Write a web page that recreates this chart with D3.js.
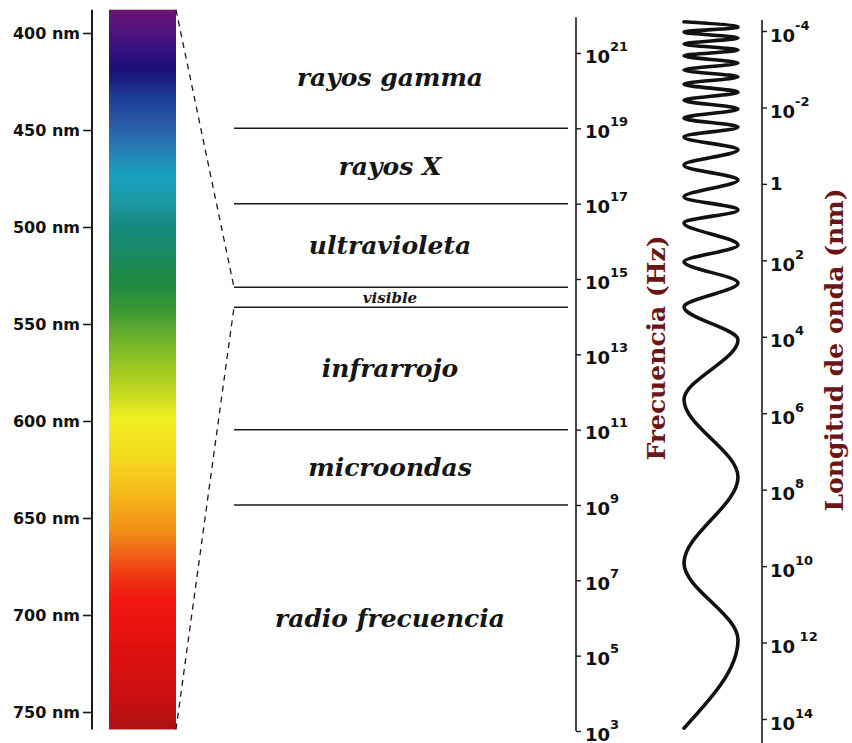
<!DOCTYPE html>
<html>
<head>
<meta charset="utf-8">
<script src="https://cdn.jsdelivr.net/npm/d3@7"></script>
<style>
body { margin: 0; background: #fff; }
</style>
</head>
<body>
<div class="canvas"></div>
<script>
// visible light, wavelength in nm
const nmTicks = [400, 450, 500, 550, 600, 650, 700, 750];
const nmBar = [388, 759];
const specNm = [388, 406, 419, 432, 447, 460, 473, 486, 499, 514, 529, 543, 561, 579, 599, 620, 638, 656, 669, 682, 692, 718, 744, 758];
const specColors = ['#6a1575', '#3d1282', '#1b0e78', '#1e3a95', '#2a5aa8', '#2680b5', '#1aa0c0', '#1a9aa8',
    '#158a80', '#1a8a60', '#1d8a40', '#3a9a30', '#78b82a', '#b0d020', '#f0f020', '#f5d820', '#f5b818',
    '#f29018', '#f06018', '#f03010', '#f21810', '#e01010', '#c81010', '#b01010'];

// frequency (Hz), as powers of ten
const hzTicks = [21, 19, 17, 15, 13, 11, 9, 7, 5, 3];
const hzTop = 21.95;
const bandNames = ['rayos gamma', 'rayos X', 'ultravioleta', 'visible', 'infrarrojo', 'microondas', 'radio frecuencia'];
const bandTop = [21.7, 19, 17, 14.78, 14.25, 11, 9];
const bandBottom = [19, 17, 14.78, 14.25, 11, 9, 3];
const bandLines = [19, 17, 14.78, 14.25, 11, 9];

// wavelength (nm), as powers of ten
const wlTicks = [-4, -2, 0, 2, 4, 6, 8, 10, 12, 14];
const wlTickLabels = ['-4', '-2', '', '2', '4', '6', '8', '10', '\u00a012', '14'];
const wlEnds = [-4.29, 14.63];

// turning points of the wave, along the wavelength axis (alternating left / right)
const waveTurns = [-4.24, -4.10, -3.97, -3.82, -3.66, -3.50, -3.35, -3.16, -2.98, -2.80, -2.61, -2.40,
    -2.19, -1.96, -1.72, -1.49, -1.23, -0.89, -0.49, -0.10, 0.34, 0.68, 1.02, 1.60, 2.04, 2.59,
    3.22, 4.08, 5.65, 7.67, 9.92, 11.93, 14.24];

const width = 852;
const height = 743;

const svg = d3.select('.canvas')
    .append('svg')
        .attr('width', width)
        .attr('height', height);

const ink = '#1a1a1a';
const tickFont = 'DejaVu Sans, Verdana, sans-serif';
const serif = 'DejaVu Serif, serif';

// scales
const nmY = d3.scaleLinear().domain([400, 750]).range([33, 712]);
const hzY = d3.scaleLog().domain([1e3, 1e21]).range([731, 53]);
const wlY = d3.scaleLog().domain([1e-4, 1e14]).range([31, 719]);
const waveX = d3.scaleLinear().domain([-1, 1]).range([684, 738]);

const barLeft = 109, barRight = 176;
const nmAxisX = 92, hzAxisX = 576, wlAxisX = 762;
const lineLeft = 234, lineRight = 568;
const labelX = 390;

/* ---------- colour bar ---------- */
const grad = svg.append('defs').append('linearGradient')
    .attr('id', 'spectrum')
    .attr('gradientUnits', 'userSpaceOnUse')
    .attr('x1', 0).attr('x2', 0)
    .attr('y1', nmY(nmBar[0]))
    .attr('y2', nmY(nmBar[1]));

grad.selectAll('stop')
    .data(specNm)
    .enter()
    .append('stop')
        .attr('offset', d => (d - nmBar[0]) / (nmBar[1] - nmBar[0]))
        .attr('stop-color', (d, i) => specColors[i]);

svg.append('rect')
    .attr('x', barLeft)
    .attr('width', barRight - barLeft)
    .attr('y', nmY(nmBar[0]))
    .attr('height', nmY(nmBar[1]) - nmY(nmBar[0]))
    .attr('fill', 'url(#spectrum)');

// nm axis
const nmAxisGroup = svg.append('g')
    .attr('transform', `translate(${nmAxisX},0)`);

nmAxisGroup.call(d3.axisLeft(nmY)
    .tickValues(nmTicks)
    .tickFormat(d => d + ' nm')
    .tickSize(9)
    .tickPadding(3)
    .tickSizeOuter(0));

nmAxisGroup.select('.domain').remove();
nmAxisGroup.append('line')
    .attr('y1', nmY(nmBar[0]))
    .attr('y2', nmY(nmBar[1]))
    .attr('stroke', ink)
    .attr('stroke-width', 2);
nmAxisGroup.selectAll('.tick line').attr('stroke', ink).attr('stroke-width', 1.6);
nmAxisGroup.selectAll('.tick text')
    .attr('font-family', tickFont)
    .attr('font-weight', 'bold')
    .attr('font-size', 16)
    .attr('fill', '#111');

/* ---------- bands ---------- */
svg.selectAll('.band-line')
    .data(bandLines)
    .enter()
    .append('line')
        .attr('class', 'band-line')
        .attr('x1', lineLeft)
        .attr('x2', lineRight)
        .attr('y1', d => hzY(Math.pow(10, d)))
        .attr('y2', d => hzY(Math.pow(10, d)))
        .attr('stroke', ink)
        .attr('stroke-width', 1.5);

svg.selectAll('.band-label')
    .data(bandNames)
    .enter()
    .append('text')
        .attr('class', 'band-label')
        .attr('x', labelX)
        .attr('y', (d, i) => hzY(Math.pow(10, (bandTop[i] + bandBottom[i]) / 2)))
        .attr('dy', '0.35em')
        .attr('text-anchor', 'middle')
        .attr('font-family', serif)
        .attr('font-style', 'italic')
        .attr('font-weight', 'bold')
        .attr('font-size', d => d === 'visible' ? 15 : 25)
        .attr('fill', '#161616')
        .text(d => d);

// dashed lines from the colour bar to the visible band
const visIdx = bandNames.indexOf('visible');
const dashes = [
    [nmBar[0], bandTop[visIdx]],
    [nmBar[1], bandBottom[visIdx]]
];
svg.selectAll('.dash')
    .data(dashes)
    .enter()
    .append('line')
        .attr('class', 'dash')
        .attr('x1', barRight)
        .attr('y1', d => nmY(d[0]))
        .attr('x2', lineLeft)
        .attr('y2', d => hzY(Math.pow(10, d[1])))
        .attr('stroke', ink)
        .attr('stroke-width', 1.3)
        .attr('stroke-dasharray', '6,5');

/* ---------- power-of-ten axes ---------- */
function powerLabels(group, sups, baseSize, supSize, shift) {
    group.selectAll('.tick text')
        .attr('font-family', tickFont)
        .attr('font-weight', 'bold')
        .attr('fill', '#111')
        .attr('dy', null)
        .each(function(d, i) {
            const t = d3.select(this).text('');
            if (sups[i] === '') {
                t.attr('y', 6).append('tspan').attr('font-size', baseSize).text('1');
                return;
            }
            t.attr('y', shift);
            t.append('tspan').attr('font-size', baseSize).text('10');
            t.append('tspan').attr('font-size', supSize).attr('dy', -12).text(sups[i]);
        });
}

const hzAxisGroup = svg.append('g')
    .attr('transform', `translate(${hzAxisX},0)`);
hzAxisGroup.call(d3.axisRight(hzY)
    .tickValues(hzTicks.map(e => Math.pow(10, e)))
    .tickSize(5)
    .tickPadding(4)
    .tickSizeOuter(0));
hzAxisGroup.select('.domain').remove();
hzAxisGroup.append('line')
    .attr('y1', hzY(Math.pow(10, hzTop)))
    .attr('y2', hzY(1e3))
    .attr('stroke', ink)
    .attr('stroke-width', 1.6);
hzAxisGroup.selectAll('.tick line').attr('stroke', ink).attr('stroke-width', 1.4);
powerLabels(hzAxisGroup, hzTicks.map(String), 18, 13, 9);

const wlAxisGroup = svg.append('g')
    .attr('transform', `translate(${wlAxisX},0)`);
wlAxisGroup.call(d3.axisRight(wlY)
    .tickValues(wlTicks.map(e => Math.pow(10, e)))
    .tickSize(5)
    .tickPadding(3)
    .tickSizeOuter(0));
wlAxisGroup.select('.domain').remove();
wlAxisGroup.append('line')
    .attr('y1', wlY(Math.pow(10, wlEnds[0])))
    .attr('y2', wlY(Math.pow(10, wlEnds[1])))
    .attr('stroke', ink)
    .attr('stroke-width', 1.6);
wlAxisGroup.selectAll('.tick line').attr('stroke', ink).attr('stroke-width', 1.4);
powerLabels(wlAxisGroup, wlTickLabels, 18, 13, 10);

// axis titles
const titleColor = '#6b1616';
svg.append('text')
    .attr('transform', `translate(665, 348) rotate(-90)`)
    .attr('text-anchor', 'middle')
    .attr('font-family', serif)
    .attr('font-weight', 'bold')
    .attr('font-size', 25)
    .attr('fill', titleColor)
    .text('Frecuencia (Hz)');

svg.append('text')
    .attr('transform', `translate(843, 350) rotate(-90)`)
    .attr('text-anchor', 'middle')
    .attr('font-family', serif)
    .attr('font-weight', 'bold')
    .attr('font-size', 25)
    .attr('fill', titleColor)
    .text('Longitud de onda (nm)');

/* ---------- the wave ---------- */
const wave = d3.line()
    .x((d, i) => waveX(i % 2 === 0 ? -1 : 1))
    .y(d => wlY(Math.pow(10, d)))
    .curve(d3.curveMonotoneY);

svg.append('path')
    .attr('d', wave(waveTurns))
    .attr('fill', 'none')
    .attr('stroke', '#111')
    .attr('stroke-width', 3.6)
    .attr('stroke-linecap', 'round');
</script>
</body>
</html>
